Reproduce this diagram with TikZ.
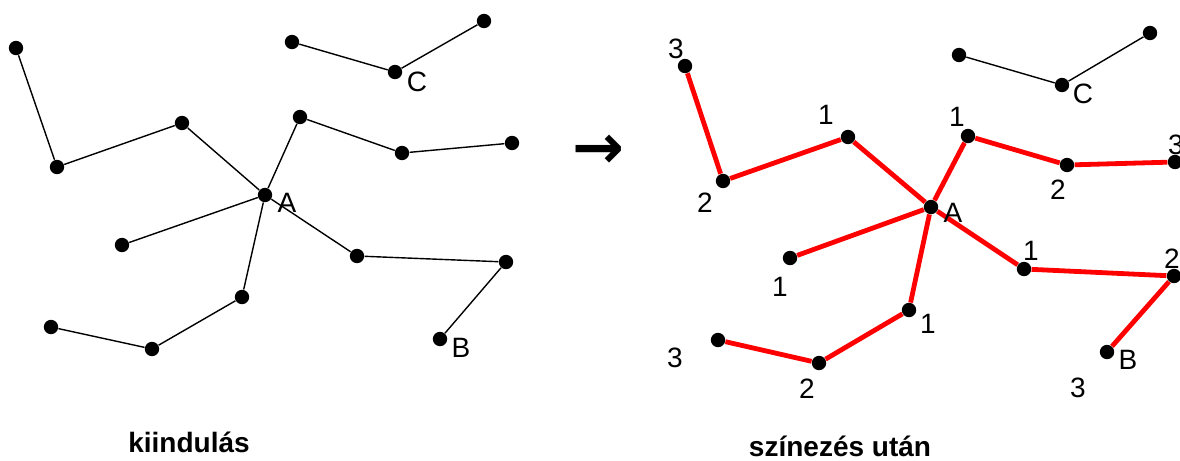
\documentclass[tikz,border=0pt]{standalone}
\usepackage{fontspec}
\setmainfont{Liberation Sans}
\newfontfamily\arrowfont{DejaVu Sans}
\usepackage{tikz}

\tikzset{
  dot/.style={circle,fill=black,inner sep=0pt,minimum size=7.2pt},
  edge/.style={draw=black,line width=0.7pt},
  rededge/.style={draw=red,line width=2.4pt},
  lbl/.style={inner sep=0pt,font=\fontsize{14}{16}\selectfont},
  caption/.style={inner sep=0pt,font=\fontsize{14}{16}\selectfont\bfseries}
}

\begin{document}
\begin{tikzpicture}[x=0.5pt,y=-0.5pt]
\useasboundingbox (0,0) rectangle (1180,461);
% left graph
\foreach \n/\x/\y in {l1/16/48,l2/57/167,l3/182/123,lA/265/195,l5/122/245,l6/300/117,l7/402/153,l8/512/143,l9/357/256,l10/506/262,lB/440/339,l12/242/297,l13/152/349,l14/51/327,l15/292/42,lC/395/72,l17/484/21}
  {\node[dot] (\n) at (\x,\y) {};}
\foreach \a/\b in {l1/l2,l2/l3,l3/lA,lA/l5,l6/lA,lA/l12,l6/l7,l7/l8,lA/l9,l9/l10,l10/lB,l12/l13,l13/l14,l15/lC,lC/l17}
  {\draw[edge] (\a) -- (\b);}
\foreach \n/\x/\y/\t in {tA/287/203/A,tB/461/348/B,tC/417/82/C}
  {\node[lbl] (\n) at (\x,\y) {\t};}
% right graph
\foreach \n/\x/\y in {r1/685/66,r2/723/181,r3/848/137,rA/931/207,r5/790/258,r6/968/136,r7/1067/165,r8/1175/162,r9/1024/269,r10/1174/276,rB/1107/352,r12/909/310,r13/819/363,r14/718/340,r15/959/55,rC/1062/85,r17/1150/33}
  {\node[dot] (\n) at (\x,\y) {};}
\foreach \a/\b in {r1/r2,r2/r3,r3/rA,rA/r5,r6/rA,rA/r12,r6/r7,r7/r8,rA/r9,r9/r10,r10/rB,r12/r13,r13/r14}
  {\draw[rededge] (\a) -- (\b);}
\foreach \a/\b in {r15/rC,rC/r17}
  {\draw[edge] (\a) -- (\b);}
\foreach \n/\x/\y/\t in {sA/953/213/A,sB/1128/360/B,sC/1083/94/C,c1/676/49/3,c2/705/203/2,c3/826/115/1,c6/957/117/1,c7/1058/190/2,c8/1176/145/3,c5/780/287/1,c9/1031/251/1,c10/1172/259/2,cB/1078/388/3,c12/928/324/1,c13/807/389/2,c14/675/358/3}
  {\node[lbl] (\n) at (\x,\y) {\t};}
% arrow and captions
\node[inner sep=0pt,font=\arrowfont\bfseries\fontsize{31}{31}\selectfont] (arrow) at (598,152) {→};
\node[caption] (capleft) at (189,442) {kiindulás};
\node[caption] (capright) at (840,446) {színezés után};
\end{tikzpicture}
\end{document}
